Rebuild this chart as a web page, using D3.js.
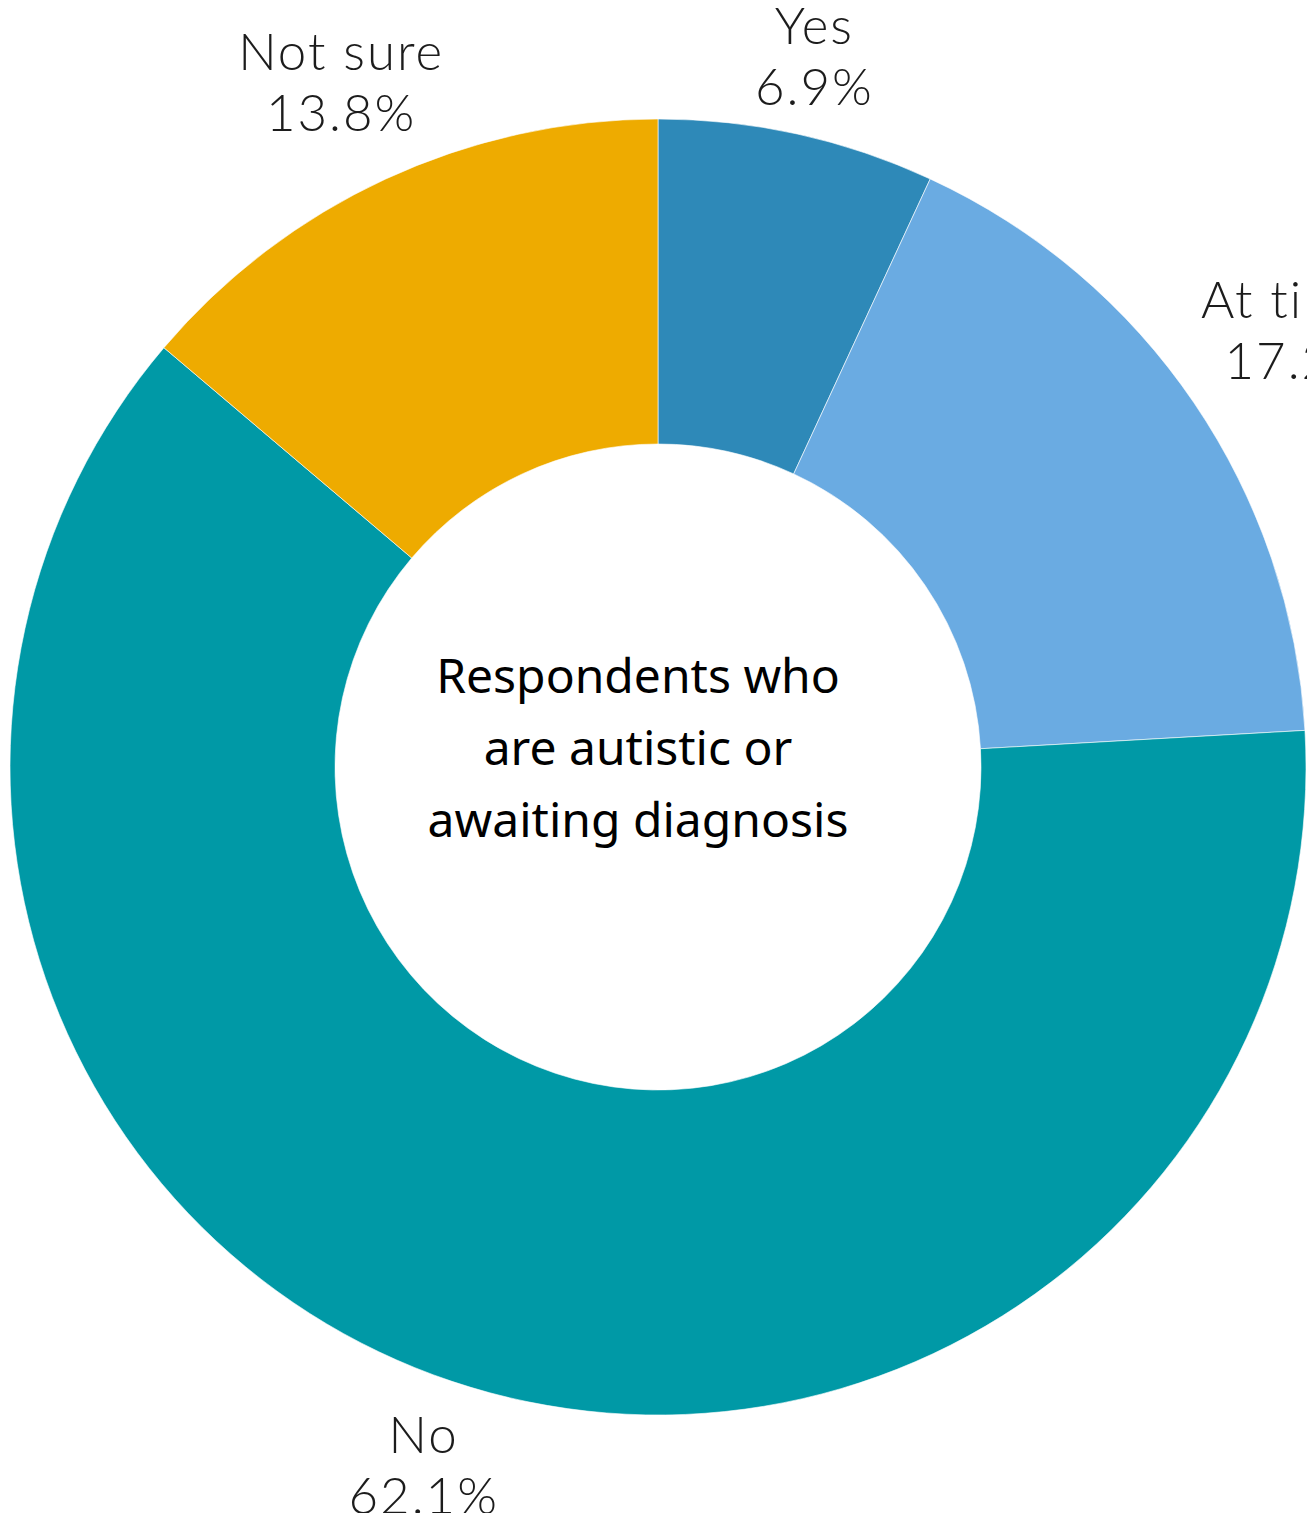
<!DOCTYPE html>
<html>
<head>
<meta charset="utf-8">
<script src="https://cdn.jsdelivr.net/npm/d3@7"></script>
<style>
  html, body { margin: 0; padding: 0; background: #fff; overflow: hidden; }
  svg { display: block; }
</style>
</head>
<body>
<svg id="chart" width="1307" height="1513"></svg>
<script>
// Survey answers, clockwise from 12 o'clock
const categories = ["Yes", "At times", "No", "Not sure"];
const shares = [6.9, 17.2, 62.1, 13.8];
const sliceColors = ["#2e89b8", "#6aabe2", "#0099a6", "#eeab00"];
const centerLines = ["Respondents who", "are autistic or", "awaiting diagnosis"];

const width = 1307, height = 1513;
const cx = 658, cy = 767;
const outerR = 648, innerR = 323;
const labelGap = 19;

const svg = d3.select("#chart");
const g = svg.append("g").attr("transform", `translate(${cx},${cy})`);

const data = categories.map((c, i) => ({ name: c, value: shares[i], color: sliceColors[i] }));

const pie = d3.pie().value(d => d.value).sort(null);
const arc = d3.arc().innerRadius(innerR).outerRadius(outerR);
const arcs = pie(data);

g.selectAll("path.slice")
  .data(arcs)
  .join("path")
  .attr("class", "slice")
  .attr("d", arc)
  .attr("fill", d => d.data.color)
  .attr("stroke", "#ffffff")
  .attr("stroke-opacity", 0.6)
  .attr("stroke-width", 1);

// Outside labels: name on first line, share on second
const fmt = d3.format(".1f");
const lineH = 61;     // baseline to baseline
const capH = 36;      // visible cap height of the label face
const blockH = lineH + capH;

const labels = g.selectAll("g.label")
  .data(arcs)
  .join("g")
  .attr("class", "label");

labels.append("text")
  .attr("text-anchor", "middle")
  .attr("font-family", "Lato, 'Open Sans', sans-serif")
  .attr("font-weight", 300)
  .attr("font-size", 51)
  .attr("letter-spacing", 2)
  .attr("fill", "#1c1c1c")
  .each(function(d) {
    const t = d3.select(this);
    t.append("tspan").attr("x", 0).attr("y", 0).text(d.data.name);
    t.append("tspan").attr("x", 0).attr("y", lineH).text(fmt(d.data.value) + "%");
  });

// Push each label block out along its slice's mid-angle so it clears the ring
labels.each(function(d) {
  const box = this.getBBox();
  const a = (d.startAngle + d.endAngle) / 2;
  const s = Math.sin(a), c = Math.cos(a);
  const hw = box.width / 2, hh = blockH / 2;
  const r = outerR + labelGap + Math.abs(s) * hw + Math.abs(c) * hh;
  const bx = s * r, by = -c * r;
  // first baseline sits capH above the block top
  const baseY = by - hh + capH;
  d3.select(this).attr("transform", `translate(${bx - (box.x + hw)},${baseY})`);
});

// Center caption
const center = g.append("text")
  .attr("text-anchor", "middle")
  .attr("font-family", "'Noto Sans', 'Open Sans', sans-serif")
  .attr("font-size", 48)
  .attr("fill", "#000");
centerLines.forEach((line, i) => {
  center.append("tspan")
    .attr("x", -20)
    .attr("y", (i - 1) * 72 - 2)
    .text(line);
});
</script>
</body>
</html>
